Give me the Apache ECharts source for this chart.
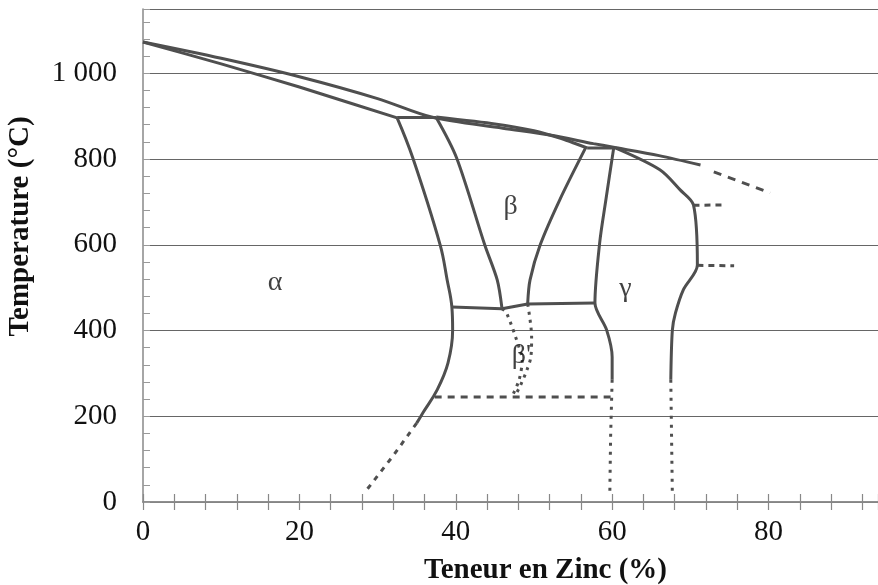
<!DOCTYPE html>
<html><head><meta charset="utf-8">
<script src="https://cdn.jsdelivr.net/npm/echarts@6/dist/echarts.min.js"></script>
<style>html,body{margin:0;padding:0;background:#fff}#c{width:878px;height:585px}</style>
</head><body><div id="c"></div>
<script>
// Cu-Zn phase diagram: [Zn %, Temperature °C]
const liquidus = [[0,1073],[10,1035],[20,992],[30,941],[36.9,898],[46,872],[52,856],[57.6,836],[60,828],[66,808],[71.3,786]];
const liquidusExt = [[73.0,770],[80.2,721]];
const alphaSolidus = [[0,1073],[10,1022],[20,968],[32.5,896]];
const betaSolidus = [[37.5,898],[45,882],[50,866],[53.3,849],[56.8,826]];
const peritectic1 = [[32.5,897],[37.5,897]];
const peritectic2 = [[56.8,826],[60.3,826]];
const alphaSolvus = [[32.5,896],[34.5,803],[38.0,600],[38.9,518],[39.5,455],[39.6,401],[39.0,324],[37.6,261],[35.8,208],[35.0,184]];
const alphaSolvusLow = [[35.0,184],[32.0,108],[28.6,28]];
const betaLeft = [[37.5,897],[40.1,803],[43.7,600],[45.3,518],[45.9,453]];
const betaRight = [[56.6,826],[53.3,705],[50.8,600],[49.5,518],[49.2,464]];
const eutectoid = [[39.5,455],[45.9,451],[49.2,462],[57.8,464]];
const gammaLeft = [[60.2,826],[59.2,705],[58.4,604],[57.8,464],[59.3,401],[60.0,338],[60.0,285]];
const gammaLeftLow = [[60.0,285],[59.8,150],[59.7,16]];
const gammaRight = [[60.4,826],[66.1,775],[68.7,728],[70.4,693],[70.9,553],[69.1,495],[68.1,441],[67.7,401],[67.5,285]];
const gammaRightLow = [[67.5,285],[67.6,150],[67.7,16]];
const dash690 = [[70.4,692],[74.2,693]];
const dash552 = [[70.9,552],[75.6,551]];
const order245 = [[37.3,245],[59.8,245]];
const betaPrimeLeft = [[45.9,451],[46.5,441],[48.2,355],[48.5,331],[48.1,285],[47.3,250]];
const betaPrimeRight = [[49.2,462],[49.7,385],[49.6,338],[49.1,308],[48.3,273],[47.5,245]];
const phaseLabels = [['α',16.9,511],['β',47.0,690],["β'",48.4,341],['γ',61.7,497]];
const xTicks = [0,20,40,60,80];
const yTicks = [0,200,400,600,800,1000];

const LC = '#4f4f4f';
function solid(d, smooth){return {type:'line',data:d,showSymbol:false,symbol:'none',smooth:smooth||0,lineStyle:{color:LC,width:3},z:3,silent:true};}
function dashed(d, dash, smooth){return {type:'line',data:d,showSymbol:false,symbol:'none',smooth:smooth||0,lineStyle:{color:LC,width:3,type:dash},z:3,silent:true};}

const serif = '"Liberation Serif","DejaVu Serif",serif';
const chart = echarts.init(document.getElementById('c'));
chart.setOption({
  animation:false,
  backgroundColor:'#fff',
  grid:{left:143,right:0,top:9,bottom:83,containLabel:false,outerBoundsMode:'none'},
  xAxis:[{
    type:'value',position:'bottom',min:0,max:94,interval:4,
    axisLine:{show:true,lineStyle:{color:'#888',width:1.5}},
    axisTick:{show:true,inside:true,length:8,lineStyle:{color:'#888',width:1.2}},
    axisLabel:{margin:16,fontFamily:serif,fontSize:29,color:'#111',
      formatter:v=>xTicks.indexOf(v)>=0?String(v):''},
    splitLine:{show:false},
    name:'Teneur en Zinc (%)',nameLocation:'middle',nameGap:54,
    nameTextStyle:{fontFamily:serif,fontSize:29,fontWeight:'bold',color:'#111',padding:[0,0,0,70]}
  },{
    type:'value',position:'top',min:0,max:94,interval:4,
    axisLine:{show:true,lineStyle:{color:'#888',width:1.5}},
    axisTick:{show:true,inside:true,length:8,lineStyle:{color:'#888',width:1.2}},
    axisLabel:{show:false},splitLine:{show:false}
  }],
  yAxis:[{
    type:'value',position:'left',min:0,max:1150,interval:200,
    axisLine:{show:true,lineStyle:{color:'#888',width:1.5}},
    axisTick:{show:false},
    axisLabel:{margin:26,fontFamily:serif,fontSize:29,color:'#111',
      formatter:v=>yTicks.indexOf(v)>=0?(v===1000?'1 000':String(v)):''},
    splitLine:{show:true,lineStyle:{color:'#666',width:1.2}},
    name:'Temperature (°C)',nameLocation:'middle',nameGap:108,nameRotate:90,
    nameTextStyle:{fontFamily:serif,fontSize:29,fontWeight:'bold',color:'#111',padding:[0,0,0,58]}
  },{
    type:'value',position:'left',min:0,max:1150,interval:40,
    axisLine:{show:false},
    axisTick:{show:true,inside:true,length:7,lineStyle:{color:'#999',width:1}},
    axisLabel:{show:false},splitLine:{show:false}
  }],
  series:[
    solid(liquidus,0.3),
    dashed(liquidusExt,[8,7]),
    solid(alphaSolidus,0.2),
    solid(betaSolidus,0.2),
    solid(peritectic1),
    solid(peritectic2),
    solid(alphaSolvus,0.4),
    dashed(alphaSolvusLow,[5,6]),
    solid(betaLeft,0.3),
    solid(betaRight,0.3),
    solid(eutectoid),
    solid(gammaLeft,0.3),
    dashed(gammaLeftLow,[3,6]),
    solid(gammaRight,0.3),
    dashed(gammaRightLow,[3,6]),
    dashed(dash690,[6,5]),
    dashed(dash552,[6,5]),
    dashed(order245,[7,6]),
    dashed(betaPrimeLeft,[3,5],0.3),
    dashed(betaPrimeRight,[3,5],0.3),
    {type:'scatter',symbolSize:0,silent:true,z:5,
     data:phaseLabels.map(p=>({name:p[0],value:[p[1],p[2]]})),
     label:{show:true,position:'inside',formatter:p=>p.name,fontFamily:serif,fontSize:28,color:'#111'}}
  ]
});
</script></body></html>
